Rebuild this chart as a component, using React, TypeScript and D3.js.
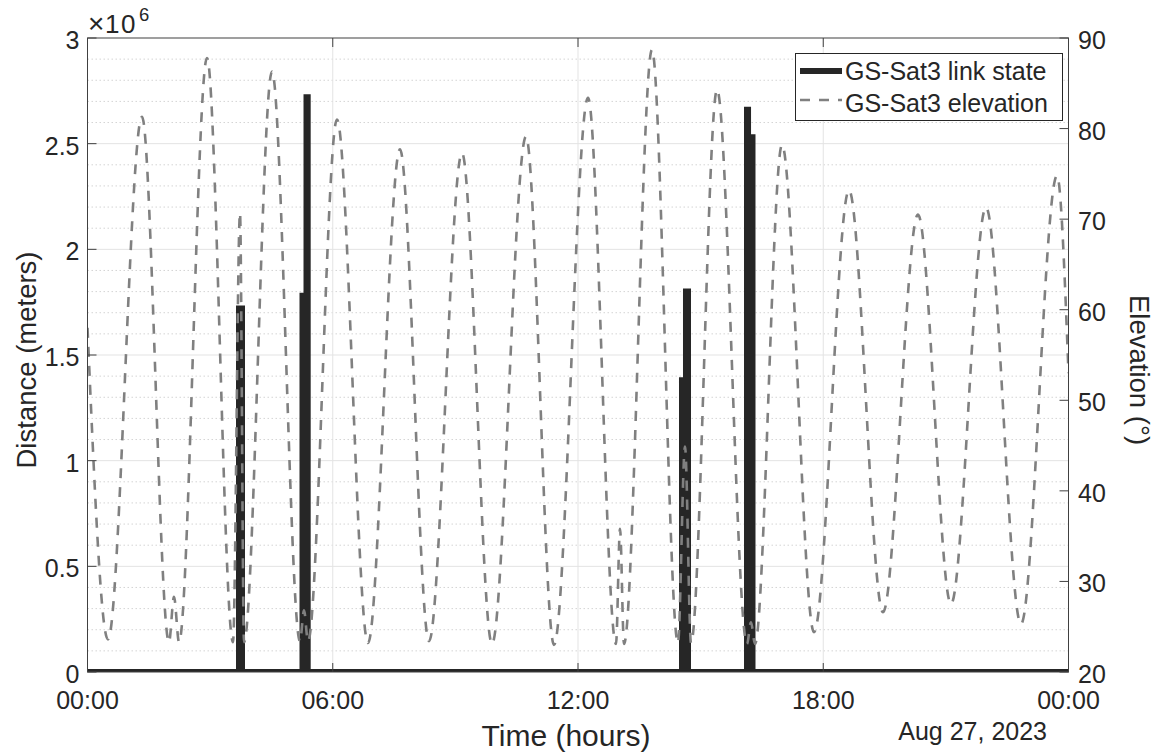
import React from "react";
import * as d3 from "d3";

const W = 1164;
const H = 753;
const START = new Date(2023, 7, 27, 0, 0, 0);

// Elevation series (hours since start, degrees)
const elevHours = [
  0.0, 0.5, 1.333, 1.994, 2.116, 2.239, 2.924, 3.56, 3.731, 3.829, 4.514, 5.199, 5.297, 5.394,
  6.104, 6.862, 7.645, 8.355, 9.162, 9.896, 10.728, 11.413, 12.245, 12.93, 13.028, 13.125,
  13.81, 14.446, 14.618, 14.765, 15.401, 16.135, 16.232, 16.33, 16.991, 17.774, 18.63,
  19.462, 20.318, 21.125, 21.982, 22.838, 23.719, 24.0,
];
const elevDeg = [
  58.0, 23.6, 81.3, 23.3, 28.3, 23.3, 87.8, 23.3, 70.7, 23.3, 86.3, 23.4, 26.8, 23.4,
  81.0, 23.2, 77.7, 23.4, 77.3, 23.1, 79.1, 23.0, 83.4, 23.1, 35.8, 23.1,
  88.7, 23.2, 44.9, 23.2, 84.3, 23.1, 25.5, 23.1, 78.2, 24.4, 73.2,
  26.6, 70.5, 27.5, 71.3, 25.3, 74.8, 53.0,
];

// Link state series (hours since start, distance in meters), held until next point
const linkHours = [0, 3.706, 3.78, 5.26, 5.358, 5.387, 14.544, 14.642, 14.691, 16.135, 16.16, 16.269, 24];
const linkDist = [0, 1.72e6, 0, 1.78e6, 2.72e6, 0, 1.38e6, 1.8e6, 0, 2.66e6, 2.53e6, 0, 0];

const distTicks = [0, 0.5e6, 1e6, 1.5e6, 2e6, 2.5e6, 3e6];
const distTickLabels = ["0", "0.5", "1", "1.5", "2", "2.5", "3"];
const distMinorTicks = d3.range(1, 30).filter((i) => i % 5 !== 0).map((i) => i * 1e5);
const elevTicks = [20, 30, 40, 50, 60, 70, 80, 90];
const timeTickHours = [0, 6, 12, 18, 24];

const FONT = "'Liberation Sans', Arial, Helvetica, sans-serif";
const TXT = "#262626";

export default function App() {
  const m = { left: 87.5, right: 1068.5, top: 38, bottom: 672 };
  const toDate = (h: number) => new Date(START.getTime() + h * 3600e3);
  const x = d3.scaleTime().domain([START, toDate(24)]).range([m.left, m.right]);
  const yL = d3.scaleLinear().domain([0, 3e6]).range([m.bottom, m.top]);
  const yR = d3.scaleLinear().domain([20, 90]).range([m.bottom, m.top]);
  const fmt = d3.timeFormat("%H:%M");
  const dateFmt = d3.timeFormat("%b %d, %Y");

  const elevData = elevHours.map((h, i) => [h, elevDeg[i]] as [number, number]);
  const linkData = linkHours.map((h, i) => [h, linkDist[i]] as [number, number]);

  const elevLine = d3
    .line<[number, number]>()
    .x((d) => x(toDate(d[0])))
    .y((d) => yR(d[1]))
    .curve(d3.curveMonotoneX);
  const linkLine = d3
    .line<[number, number]>()
    .x((d) => x(toDate(d[0])))
    .y((d) => yL(d[1]))
    .curve(d3.curveStepAfter);
  const linkArea = d3
    .area<[number, number]>()
    .x((d) => x(toDate(d[0])))
    .y0(yL(0))
    .y1((d) => yL(d[1]))
    .curve(d3.curveStepAfter);

  const tickLen = 9;
  const fs = 25;
  const lfs = 27.5;

  return (
    <svg
      width={W}
      height={H}
      style={{ position: "absolute", left: 0, top: 0, background: "#fff" }}
      fontFamily={FONT}
    >
      <defs>
        <clipPath id="plotClip">
          <rect x={m.left} y={m.top} width={m.right - m.left} height={m.bottom - m.top} />
        </clipPath>
      </defs>
      <rect x={0} y={0} width={W} height={H} fill="#fff" />

      {/* minor grid */}
      {distMinorTicks.map((v) => (
        <line
          key={"mg" + v}
          x1={m.left}
          x2={m.right}
          y1={yL(v)}
          y2={yL(v)}
          stroke="#d4d4d4"
          strokeWidth={1}
          strokeDasharray="1.5,2.5"
        />
      ))}
      {/* major grid */}
      {distTicks.slice(1, -1).map((v) => (
        <line key={"g" + v} x1={m.left} x2={m.right} y1={yL(v)} y2={yL(v)} stroke="#e3e3e3" strokeWidth={1} />
      ))}
      {timeTickHours.slice(1, -1).map((h) => (
        <line
          key={"vg" + h}
          x1={x(toDate(h))}
          x2={x(toDate(h))}
          y1={m.top}
          y2={m.bottom}
          stroke="#e3e3e3"
          strokeWidth={1}
        />
      ))}

      {/* data */}
      <g clipPath="url(#plotClip)">
        <path d={linkArea(linkData) || ""} fill="#262626" stroke="none" />
        <path
          d={linkLine(linkData) || ""}
          fill="none"
          stroke="#262626"
          strokeWidth={6}
          strokeLinejoin="miter"
        />
        <path
          d={elevLine(elevData) || ""}
          fill="none"
          stroke="#808080"
          strokeWidth={2.6}
          strokeDasharray="10,9"
        />
      </g>

      {/* box */}
      <rect
        x={m.left}
        y={m.top}
        width={m.right - m.left}
        height={m.bottom - m.top}
        fill="none"
        stroke="#404040"
        strokeWidth={1}
      />

      {/* left axis ticks */}
      {distTicks.map((v, i) => (
        <g key={"lt" + v}>
          <line x1={m.left} x2={m.left + tickLen} y1={yL(v)} y2={yL(v)} stroke="#404040" strokeWidth={1} />
          <text x={79.5} y={yL(v) + 11} textAnchor="end" fontSize={fs} fill={TXT}>
            {distTickLabels[i]}
          </text>
        </g>
      ))}
      {/* right axis ticks */}
      {elevTicks.map((v) => (
        <g key={"rt" + v}>
          <line x1={m.right - tickLen} x2={m.right} y1={yR(v)} y2={yR(v)} stroke="#404040" strokeWidth={1} />
          <text x={1078} y={yR(v) + 11} textAnchor="start" fontSize={fs} fill={TXT}>
            {v}
          </text>
        </g>
      ))}
      {/* x ticks */}
      {timeTickHours.map((h) => {
        const xx = x(toDate(h));
        return (
          <g key={"xt" + h}>
            <line x1={xx} x2={xx} y1={m.bottom} y2={m.bottom - tickLen} stroke="#404040" strokeWidth={1} />
            <line x1={xx} x2={xx} y1={m.top} y2={m.top + tickLen} stroke="#404040" strokeWidth={1} />
            <text x={xx} y={708.5} textAnchor="middle" fontSize={fs} fill={TXT}>
              {fmt(toDate(h))}
            </text>
          </g>
        );
      })}

      {/* exponent */}
      <text x={88} y={33} fontSize={28} fill={TXT}>
        ×
      </text>
      <text x={105} y={33} fontSize={26} letterSpacing={1.5} fill={TXT}>
        10
      </text>
      <text x={139} y={20.5} fontSize={18.5} fill={TXT}>
        6
      </text>

      {/* date label */}
      <text x={1047} y={740} textAnchor="end" fontSize={fs} fill={TXT}>
        {dateFmt(START)}
      </text>

      {/* axis labels */}
      <text x={566} y={746} textAnchor="middle" fontSize={30} fill={TXT}>
        Time (hours)
      </text>
      <text
        transform={`translate(36, 360) rotate(-90)`}
        textAnchor="middle"
        fontSize={lfs}
        fill={TXT}
      >
        Distance (meters)
      </text>
      <text
        transform={`translate(1130, 370) rotate(90)`}
        textAnchor="middle"
        fontSize={lfs}
        fill={TXT}
      >
        Elevation (°)
      </text>

      {/* legend */}
      <g>
        <rect x={795.5} y={53.5} width={267} height={67} fill="#fff" stroke="#262626" strokeWidth={1} />
        <line x1={800} x2={842} y1={71} y2={71} stroke="#262626" strokeWidth={6} />
        <line x1={800} x2={842} y1={100} y2={100} stroke="#808080" strokeWidth={2.6} strokeDasharray="10,9" />
        <text x={845} y={80} fontSize={fs} fill={TXT}>
          GS-Sat3 link state
        </text>
        <text x={845} y={111.5} fontSize={fs} fill={TXT}>
          GS-Sat3 elevation
        </text>
      </g>
    </svg>
  );
}
